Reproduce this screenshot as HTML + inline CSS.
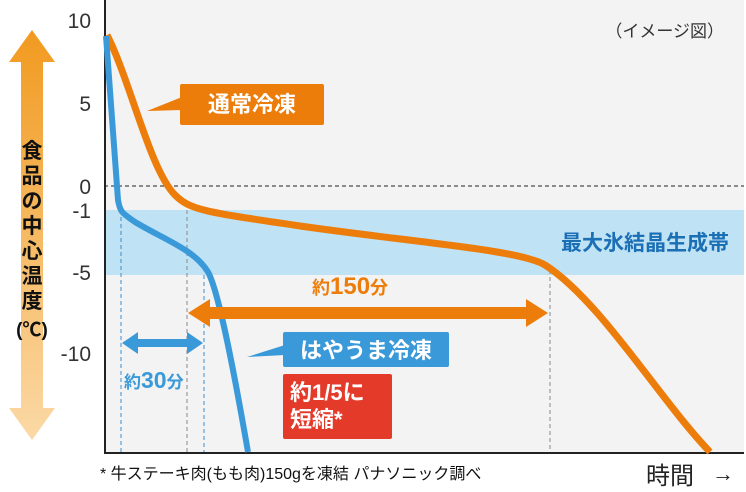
<!DOCTYPE html>
<html><head><meta charset="utf-8"><style>
html,body{margin:0;padding:0;background:#fff;}
svg{display:block;font-family:"Liberation Sans","Noto Sans CJK JP",sans-serif;}
</style></head><body>
<svg width="746" height="492" viewBox="0 0 746 492" xmlns="http://www.w3.org/2000/svg">
<defs>
<linearGradient id="g" x1="0" y1="0" x2="0" y2="1">
<stop offset="0" stop-color="#f19a1f"/><stop offset="1" stop-color="#fbd9a6"/>
</linearGradient>
</defs>
<rect x="104" y="0" width="640" height="453" fill="#f3f3f4"/>
<rect x="104" y="210" width="640" height="65" fill="#bfe2f5"/>
<line x1="104" y1="186" x2="744" y2="186" stroke="#222" stroke-width="1" stroke-dasharray="4,3"/>
<g stroke-width="1" stroke-dasharray="4,3">
<line x1="121" y1="210" x2="121" y2="452" stroke="#3a8fd0"/>
<line x1="187" y1="210" x2="187" y2="452" stroke="#888"/>
<line x1="204" y1="275" x2="204" y2="452" stroke="#3a8fd0"/>
<line x1="550" y1="270" x2="550" y2="452" stroke="#888"/>
</g>
<path d="M105,0 V453 H744" fill="none" stroke="#222" stroke-width="2"/>
<path d="M107,35 C130,80 150,170 175,195 C190,210 205,212 300,226 C420,243 520,250 545,265 C600,300 660,400 710,452" fill="none" stroke="#ed7d0b" stroke-width="7"/>
<path d="M106,36 L118,200 C120,212 122,213 135,222 C165,240 195,250 208,272 C218,290 232,360 248,452" fill="none" stroke="#3a9ad9" stroke-width="6"/>
<g font-size="21" fill="#333" text-anchor="end">
<text x="91" y="28">10</text><text x="91" y="111">5</text><text x="91" y="194">0</text>
<text x="91" y="218">-1</text><text x="91" y="280">-5</text><text x="91" y="361">-10</text>
</g>
<path d="M32,30 L55,62 L43,62 L43,408 L55,408 L32,440 L9,408 L21,408 L21,62 L9,62 Z" fill="url(#g)"/>
<g font-size="21" font-weight="bold" fill="#111" text-anchor="middle">
<text x="32" y="158">食</text><text x="32" y="183">品</text><text x="32" y="208">の</text>
<text x="32" y="233">中</text><text x="32" y="258">心</text><text x="32" y="283">温</text>
<text x="32" y="308">度</text><text x="32" y="336" font-size="19">(℃)</text>
</g>
<text x="724" y="37" font-size="17" fill="#333" text-anchor="end">（イメージ図）</text>
<text x="729" y="250" font-size="21" font-weight="bold" fill="#1a6fb5" text-anchor="end">最大氷結晶生成帯</text>
<path d="M147,111 L182,97 L182,110 Z" fill="#ed7d0b"/>
<rect x="180" y="84" width="144" height="41" rx="2" fill="#ed7d0b"/>
<text x="252" y="112" font-size="22" font-weight="bold" fill="#fff" text-anchor="middle">通常冷凍</text>
<path d="M247,357 L285,345 L285,355 Z" fill="#3a9ad9"/>
<rect x="283" y="332" width="166" height="35" rx="2" fill="#3a9ad9"/>
<text x="366" y="358" font-size="22" font-weight="bold" fill="#fff" text-anchor="middle">はやうま冷凍</text>
<rect x="283" y="374" width="109" height="65" rx="2" fill="#e43a2a"/>
<text x="290" y="400" font-size="22" font-weight="bold" fill="#fff">約1/5に</text>
<text x="290" y="427" font-size="22" font-weight="bold" fill="#fff">短縮*</text>
<path d="M188,313 L210,299 L210,307 L526,307 L526,299 L548,313 L526,327 L526,319 L210,319 L210,327 Z" fill="#ed7d0b"/>
<text x="312" y="294" font-size="18" font-weight="bold" fill="#ed7d0b">約<tspan font-size="24">150</tspan>分</text>
<path d="M122,343 L138,332 L138,339 L187,339 L187,332 L203,343 L187,354 L187,347 L138,347 L138,354 Z" fill="#3a9ad9"/>
<text x="124" y="388" font-size="17" font-weight="bold" fill="#3a9ad9">約<tspan font-size="23">30</tspan>分</text>
<text x="100" y="479" font-size="16" fill="#111">* 牛ステーキ肉(もも肉)150gを凍結 パナソニック調べ</text>
<text x="646" y="484" font-size="24" fill="#222">時間</text>
<text x="712" y="481" font-size="22" fill="#222">→</text>
</svg>
</body></html>
